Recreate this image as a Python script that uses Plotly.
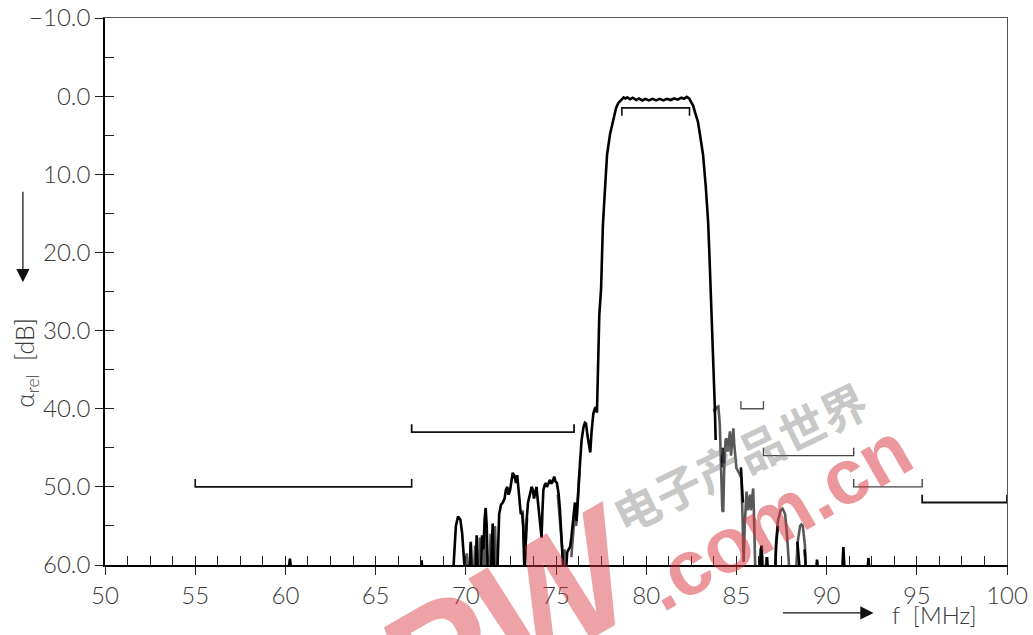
import plotly.graph_objects as go

# ---- measured response: frequency [MHz] / relative attenuation [dB] ----
# values of 61 lie just below the 60 dB floor of the chart, None breaks the line
freq_main = [
    50.0, 60.15, 60.25, 60.35, 67.5, 67.55, 67.6, 69.3, 69.45, 69.57, 69.7, 69.8, 69.95,
    70.2, 70.27, 70.33, 70.55, 70.6, 70.66, 70.85, 70.9, 70.97, 71.05, 71.1, 71.16, 71.22,
    71.4, 71.49, 71.56, 71.75, 71.85, 71.95, 72.05, 72.15, 72.22, 72.3, 72.37, 72.45, 72.55,
    72.6, 72.7, 72.78, 72.85, 72.92, 72.98, 73.05, 73.12, 73.18, 73.25, 73.3, 73.38, 73.45,
    73.52, 73.6, 73.65, 73.72, 73.78, 73.85, 73.92, 73.98, 74.05, 74.12, 74.2, 74.25, 74.3,
    74.37, 74.43, 74.5, 74.56, 74.62, 74.67, 74.73, 74.8, 74.9, 74.97, 75.05, 75.15, 75.22,
    75.3, 75.4, 75.55, 75.62, 75.7, 75.78, 75.85, 75.92, 76.0, 76.05, 76.14, 76.2, 76.33,
    76.42, 76.52, 76.6, 76.66, 76.75, 76.85, 76.9, 76.97, 77.07, 77.15, 77.22, 77.27, 77.3,
    77.34, 77.4, 77.5, 77.6, 77.7, 77.83, 78.0, 78.16, 78.33, 78.45, 78.55, 78.65, 78.75,
    78.85, 78.95, 79.1, 79.25, 79.45, 79.6, 79.8, 79.95, 80.15, 80.35, 80.55, 80.75, 80.95,
    81.15, 81.35, 81.55, 81.75, 81.95, 82.1, 82.25, 82.38, 82.5, 82.6, 82.7, 82.8, 82.87,
    83.0, 83.15, 83.3, 83.43, 83.5, 83.58, 83.65, 83.7, 83.76, 83.8, 83.85, None,
    84.2, 84.25, 84.3, None, 85.25, 85.3, 85.36, None,
    86.3, 86.35, 86.4, 86.45, 86.65, 86.7, 86.75, 87.15, 87.2, 87.25, 87.3, None,
    88.38, 88.43, 88.48, 88.52, None, 88.78, 88.82, 88.86, 89.4, 89.47, 89.54,
    90.86, 90.93, 91.0, 92.26, 92.32, 92.38, 100.0,
]
atten_main = [
    61, 61, 59.2, 61, 61, 59.4, 61, 61, 55.0, 53.8, 54.2, 56.0, 61,
    61, 57.1, 61, 61, 56.2, 61, 61, 56.2, 58.0, 54.0, 52.7, 55.0, 61,
    61, 54.7, 61, 61, 53.5, 52.3, 52.0, 51.5, 50.4, 50.0, 51.0, 50.5, 49.0,
    48.2, 48.6, 49.5, 48.5, 50.5, 52.5, 53.5, 53.3, 55.0, 61, 58.0, 54.0, 52.0,
    51.3, 50.5, 50.0, 50.4, 51.5, 50.8, 50.0, 51.5, 53.0, 54.5, 56.5, 53.0, 50.4,
    49.8, 49.5, 50.0, 49.6, 49.3, 49.1, 49.6, 49.4, 48.7, 49.3, 49.5, 51.0, 53.0,
    56.0, 60.5, 61, 58.4, 58.0, 57.7, 56.5, 55.0, 52.5, 52.0, 54.4, 51.5, 47.0,
    44.0, 42.4, 41.8, 41.9, 43.5, 45.4, 45.6, 43.0, 40.6, 40.0, 39.8, 40.5, 38.0,
    33.0, 28.0, 24.6, 16.5, 12.5, 7.5, 4.8, 3.2, 1.5, 0.9, 0.6, 0.3, 0.15,
    0.3, 0.15, 0.4, 0.2, 0.5, 0.3, 0.55, 0.35, 0.55, 0.35, 0.55, 0.35, 0.55,
    0.35, 0.5, 0.3, 0.45, 0.2, 0.35, 0.1, 0.3, 0.7, 1.2, 2.0, 2.8, 3.3,
    5.2, 7.5, 11.5, 16.0, 20.0, 24.6, 29.0, 33.0, 37.0, 39.5, 44.0, None,
    47.5, 45.0, 47.0, None, 47.5, 49.0, 52.0, None,
    61, 58.0, 57.5, 61, 61, 59.0, 61, 61, 57.5, 56.0, 55.0, None,
    57.0, 58.5, 60.0, 61, None, 58.0, 59.5, 61, 61, 59.3, 61,
    61, 57.7, 61, 61, 59.1, 61, 61,
]

# second measurement (grey), only where it departs from the floor
freq_second = [
    69.95, 70.05, 70.1, 70.22, 70.28, 70.34, 70.45, 70.52, 70.58, 70.72, 70.78, 70.84,
    71.0, 71.08, 71.15, 71.3, 71.38, 71.45, 71.55, 71.62, 71.7, None,
    73.15, 73.22, 73.28, 73.34, 73.4, None,
    75.1, 75.2, 75.3, 75.42, 75.5, None,
    75.85, 75.95, 76.05, 76.12, 76.2, 76.3, None,
    83.75, 83.8, 83.9, 84.0, 84.08, 84.15, 84.22, 84.27, 84.32, 84.4, 84.46, 84.52, 84.58,
    84.64, 84.7, 84.74, 84.78, 84.83, 84.88, 84.93, 85.0, 85.1, 85.2, 85.28, 85.33, 85.4,
    85.46, 85.56, 85.62, 85.68, 85.75, 85.8, 85.86, 85.93, 85.98, 86.05, 86.3, 86.35,
    86.4, 86.45, 86.6, 86.67, 86.72, 87.15, 87.2, 87.3, 87.45, 87.56, 87.7, 87.8, 87.93,
    88.3, 88.4, 88.53, 88.6, 88.68, 88.8, 88.86,
]
atten_second = [
    61, 58.5, 61, 61, 57.0, 61, 61, 57.5, 61, 61, 56.5, 61,
    61, 53.5, 61, 61, 56.0, 61, 61, 55.0, 61, None,
    53.0, 56.0, 60.0, 56.0, 54.0, None,
    51.0, 54.0, 57.0, 60.0, 58.0, None,
    59.0, 56.0, 53.0, 55.0, 51.0, 48.0, None,
    40.0, 40.4, 39.8, 39.7, 42.0, 48.0, 53.0, 53.2, 48.0, 44.0, 43.8, 45.5, 44.0,
    42.9, 46.0, 44.5, 43.0, 42.5, 44.5, 46.0, 47.6, 48.0, 48.5, 48.9, 53.0, 59.6,
    55.0, 50.6, 53.0, 52.0, 51.0, 53.0, 52.0, 50.2, 54.0, 61, 61, 58.5,
    58.0, 61, 61, 59.0, 61, 61, 57.0, 54.4, 53.0, 52.8, 53.5, 56.0, 60.5,
    61, 57.0, 55.0, 54.8, 55.0, 57.5, 61,
]

# tolerance scheme: start / stop frequency [MHz], attenuation limit [dB]
mask_start = [55.0, 67.0, 78.65, 85.25, 86.5, 91.5, 95.3]
mask_stop = [67.0, 76.0, 82.4, 86.5, 91.5, 95.3, 100.0]
mask_level = [50.0, 43.0, 1.5, 40.0, 46.0, 50.0, 52.0]
mask_is_passband = [False, False, True, False, False, False, False]

x_range = [50, 100]
y_range = [60, -10]

# ---- styling ----
TICK_FONT = dict(family="Lato", size=24, color="#3a3a3a", weight=300)
LABEL_FONT = dict(family="Lato", size=24, color="#3a3a3a", weight=300)
mask_colors = ["#111111", "#111111", "#111111", "#555555", "#444444", "#444444", "#111111"]
mask_widths = [1.6, 1.8, 1.6, 1.4, 1.4, 1.4, 1.8]
END_TICK = 1.0  # dB, length of the bracket end marks

fig = go.Figure()

# tolerance brackets
for f1, f2, lvl, pb, col, w in zip(mask_start, mask_stop, mask_level, mask_is_passband,
                                   mask_colors, mask_widths):
    end = lvl + END_TICK if pb else lvl - END_TICK
    fig.add_trace(go.Scatter(
        x=[f1, f1, f2, f2], y=[end, lvl, lvl, end], mode="lines",
        line=dict(color=col, width=w), hoverinfo="skip", showlegend=False))

fig.add_trace(go.Scatter(
    x=freq_second, y=atten_second, mode="lines", connectgaps=False,
    line=dict(color="#585858", width=2.6), showlegend=False))
fig.add_trace(go.Scatter(
    x=freq_main, y=atten_main, mode="lines", connectgaps=False,
    line=dict(color="#000000", width=2.6), showlegend=False))

# helper subplots for inside tick marks and the thin frame on top/right
fig.add_trace(go.Scatter(x=[], y=[], xaxis="x2", yaxis="y2", showlegend=False))
fig.add_trace(go.Scatter(x=[], y=[], xaxis="x3", yaxis="y3", showlegend=False))

common = dict(showgrid=False, zeroline=False, automargin=False)
fig.update_layout(
    width=1033, height=635,
    margin=dict(l=105, r=26, t=18, b=70),
    paper_bgcolor="white", plot_bgcolor="white",
    xaxis=dict(range=x_range, tick0=50, dtick=5, ticks="outside", ticklen=8,
               tickwidth=1.4, tickcolor="#222", showline=True, linecolor="#000",
               linewidth=2, tickfont=TICK_FONT, **common),
    yaxis=dict(range=y_range, tick0=-10, dtick=10, tickformat=".1f", ticks="outside",
               ticklen=8, tickwidth=1.4, tickcolor="#222", showline=True,
               linecolor="#000", linewidth=1.6, tickfont=TICK_FONT, **common),
    xaxis2=dict(range=x_range, overlaying="x", anchor="y2", side="bottom", tick0=50,
                dtick=1.25, ticks="inside", ticklen=9, tickwidth=1.2, tickcolor="#222",
                showticklabels=False, showline=False, **common),
    yaxis2=dict(range=y_range, overlaying="y", anchor="x2", side="left", tick0=-10,
                dtick=5, ticks="inside", ticklen=9, tickwidth=1.2, tickcolor="#222",
                showticklabels=False, showline=False, **common),
    xaxis3=dict(range=x_range, overlaying="x", anchor="y3", side="top", ticks="",
                showticklabels=False, showline=True, linecolor="#555", linewidth=1.2,
                **common),
    yaxis3=dict(range=y_range, overlaying="y", anchor="x3", side="right", ticks="",
                showticklabels=False, showline=True, linecolor="#555", linewidth=1.2,
                **common),
)

# axis captions with direction arrows
fig.add_annotation(xref="paper", yref="paper", x=-0.0885, y=0.37, textangle=-90,
                   xanchor="center", yanchor="middle",
                   text="α<sub>rel</sub>  [dB]", showarrow=False,
                   font=dict(LABEL_FONT, size=25))
fig.add_annotation(xref="paper", yref="paper", x=-0.091, y=0.517, ax=0, ay=-92,
                   axref="pixel", ayref="pixel", text="", showarrow=True,
                   arrowhead=2, arrowsize=2.2, arrowwidth=1.2, arrowcolor="#111")
fig.add_annotation(xref="paper", yref="paper", x=0.92, y=-0.091,
                   xanchor="center", yanchor="middle",
                   text="f  [MHz]", showarrow=False, font=LABEL_FONT)
fig.add_annotation(xref="paper", yref="paper", x=0.852, y=-0.0877, ax=-92, ay=0,
                   axref="pixel", ayref="pixel", text="", showarrow=True,
                   arrowhead=2, arrowsize=2.2, arrowwidth=1.2, arrowcolor="#111")

# site watermark laid over the chart
fig.add_annotation(xref="paper", yref="paper", x=0.745, y=0.09, textangle=-30,
                   xanchor="center", yanchor="middle", text="<b>.com.cn</b>",
                   showarrow=False, opacity=0.5,
                   font=dict(family="Liberation Sans", size=78, color="#d9323c"))
fig.add_annotation(xref="paper", yref="paper", x=0.703, y=0.2, textangle=-26,
                   xanchor="center", yanchor="middle", text="<b>电子产品世界</b>",
                   showarrow=False, opacity=0.4,
                   font=dict(family="Noto Sans CJK SC", size=46, color="#777777"))
fig.add_annotation(xref="paper", yref="paper", x=0.345, y=-0.2, textangle=-30,
                   xanchor="center", yanchor="middle", text="<b><i>EEPW</i></b>",
                   showarrow=False, opacity=0.45,
                   font=dict(family="Liberation Sans", size=165, color="#d9323c"))

fig.write_html("out.html")
